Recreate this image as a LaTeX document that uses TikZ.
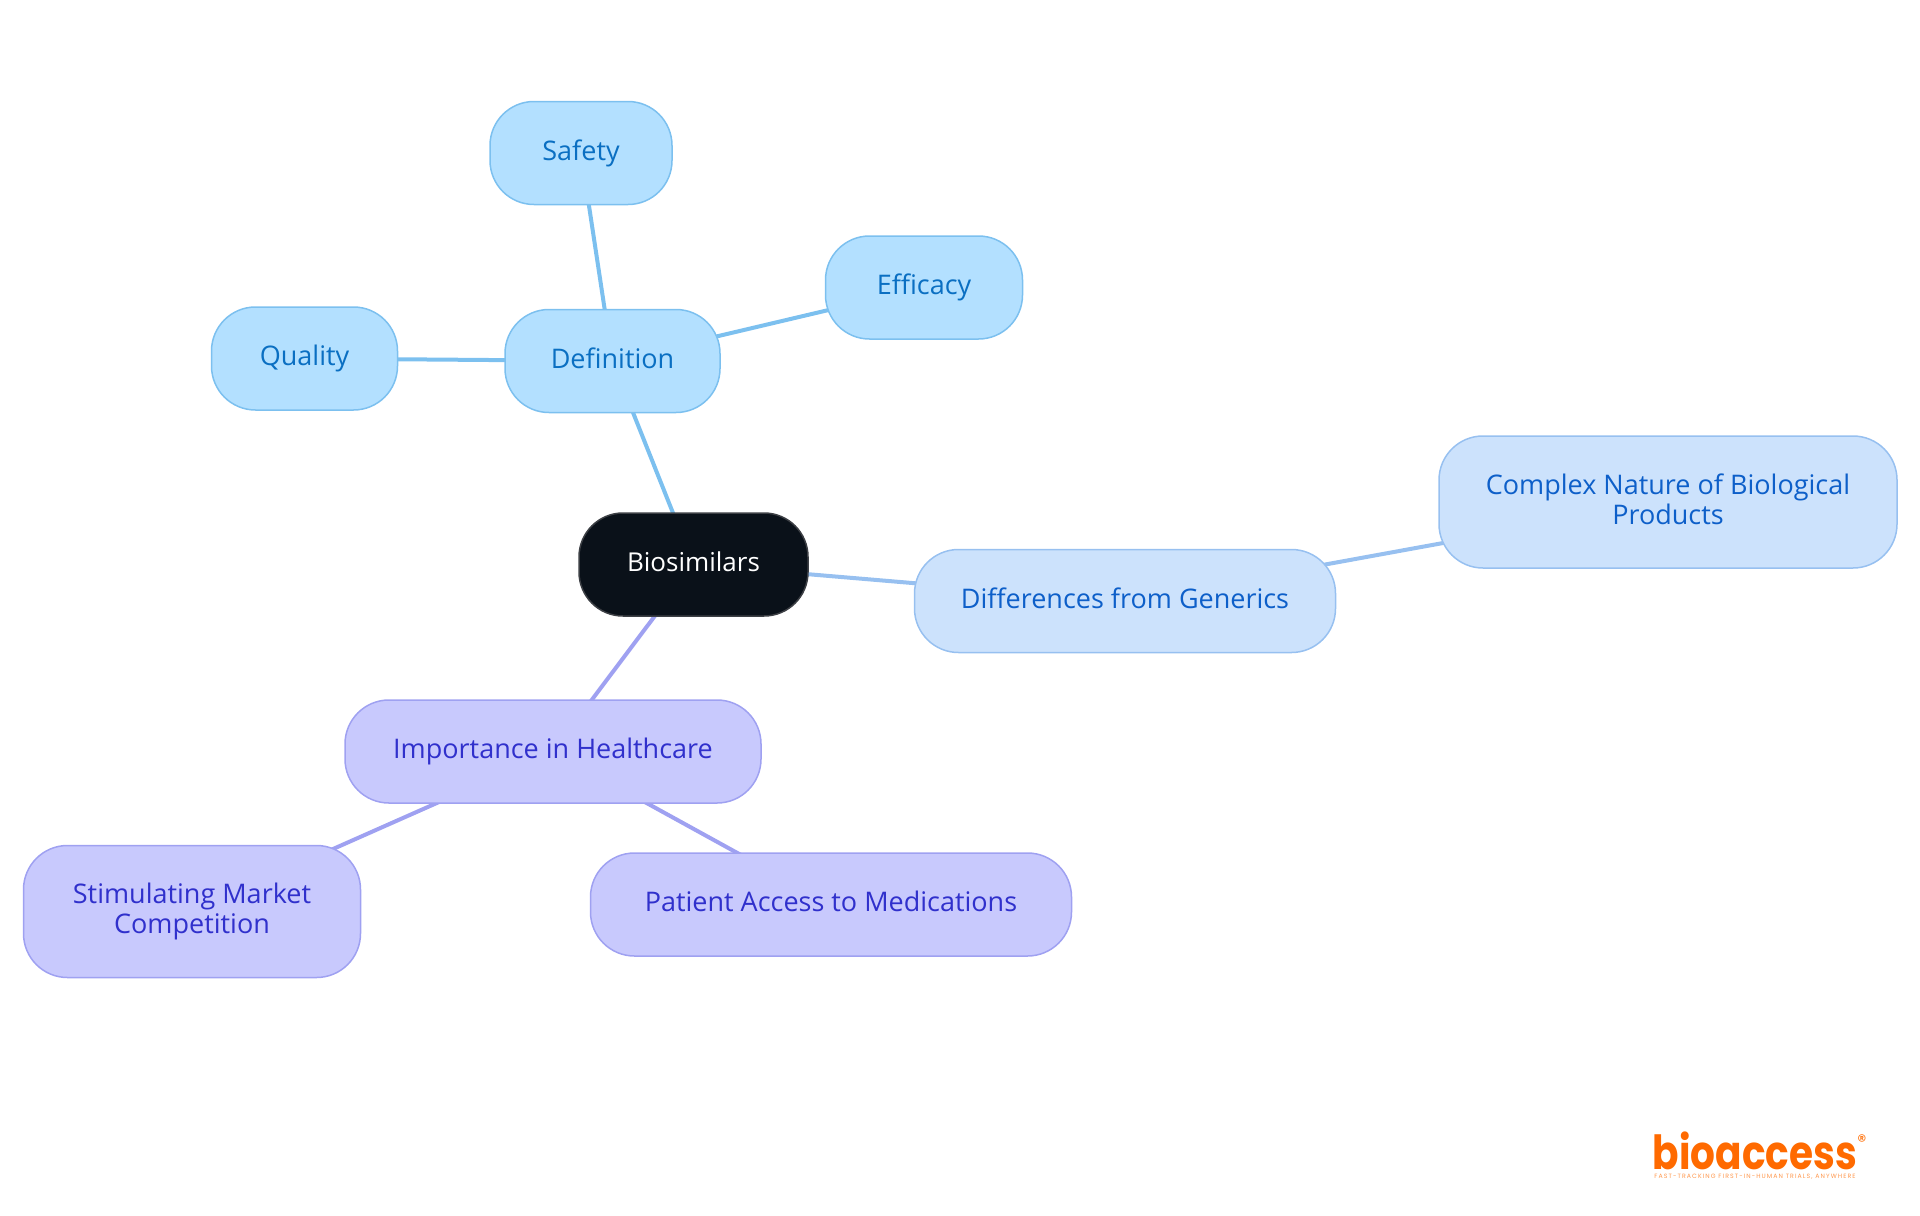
\documentclass[tikz,border=0pt]{standalone}
\usepackage{fontspec}
\usepackage{xcolor}
\setmainfont{Open Sans}
\newfontfamily\logofont{Poppins}
\newfontfamily\tagfont[LetterSpace=17.5]{Poppins}
\usetikzlibrary{backgrounds}

\definecolor{rootfill}{HTML}{0A1119}
\definecolor{rootline}{HTML}{3C3F44}
\definecolor{defnfill}{HTML}{B3E0FF}
\definecolor{defnline}{HTML}{7CC0EF}
\definecolor{defntext}{HTML}{0A6FC2}
\definecolor{difffill}{HTML}{CCE2FC}
\definecolor{diffline}{HTML}{97C0F0}
\definecolor{difftext}{HTML}{0D5FC9}
\definecolor{impofill}{HTML}{C8C9FD}
\definecolor{impoline}{HTML}{9FA1F1}
\definecolor{impotext}{HTML}{3030CC}
\definecolor{logoorange}{HTML}{FF6A00}

\begin{document}
\begin{tikzpicture}[x=0.5pt,y=-0.5pt,
		mapnode/.style={rounded corners=22pt, line width=0.75pt, align=center, inner sep=0pt,
			minimum height=51.5pt, text height=10pt, text depth=3pt, font=\fontsize{13.5}{15}\selectfont},
		twolines/.style={minimum height=66pt, text height=25pt, text depth=3pt},
		rootnode/.style={mapnode, fill=rootfill, draw=rootline, text=white, font=\fontsize{13}{15}\selectfont},
		defnnode/.style={mapnode, fill=defnfill, draw=defnline, text=defntext},
		diffnode/.style={mapnode, fill=difffill, draw=diffline, text=difftext},
		iponode/.style={mapnode, fill=impofill, draw=impoline, text=impotext},
		link/.style={line width=2pt}]

		\useasboundingbox (0,0) rectangle (1920,1215);

		\node[rootnode, minimum width=114.5pt] (bio) at (693.5,564.5) {Biosimilars};

		\node[defnnode, minimum width=107.5pt] (defn) at (612.5,361) {Definition};
		\node[defnnode, minimum width=91pt] (safety) at (581,153) {Safety};
		\node[defnnode, minimum width=98.5pt] (efficacy) at (924,287.5) {Efficacy};
		\node[defnnode, minimum width=93pt] (quality) at (304.5,358.5) {Quality};

		\node[diffnode, minimum width=210.5pt] (diff) at (1125,601) {Differences from Generics};
		\node[diffnode, twolines, minimum width=229pt] (complex) at (1668,502) {Complex Nature of Biological\\Products};

		\node[iponode, minimum width=208pt] (impo) at (553,751.5) {Importance in Healthcare};
		\node[iponode, twolines, minimum width=168.5pt] (market) at (192,911.5) {Stimulating Market\\Competition};
		\node[iponode, minimum width=240.5pt] (access) at (831,904.5) {Patient Access to Medications};

		% links run centre to centre, under the nodes
		\begin{scope}[on background layer]
			\draw[link, defnline] (bio.center) -- (defn.center);
			\draw[link, defnline] (defn.center) -- (safety.center);
			\draw[link, defnline] (defn.center) -- (efficacy.center);
			\draw[link, defnline] (defn.center) -- (quality.center);
			\draw[link, diffline] (bio.center) -- (diff.center);
			\draw[link, diffline] (diff.center) -- (complex.center);
			\draw[link, impoline] (bio.center) -- (impo.center);
			\draw[link, impoline] (impo.center) -- (market.center);
			\draw[link, impoline] (impo.center) -- (access.center);
		\end{scope}

		% logo
		\node[text=logoorange, inner sep=0pt, font=\logofont\bfseries\fontsize{23.5}{24}\selectfont] (logo) at (1755,1151) {\scalebox{0.83}[1]{bioaccess}};
		\node[text=logoorange, inner sep=0pt, font=\logofont\fontsize{9}{9}\selectfont] (mark) at (1862,1141) {®};
		\node[text=logoorange!70, inner sep=0pt, font=\tagfont\fontsize{3.1}{4}\selectfont] (tagline) at (1755,1177) {FAST-TRACKING FIRST-IN-HUMAN TRIALS, ANYWHERE};
	\end{tikzpicture}
\end{document}
